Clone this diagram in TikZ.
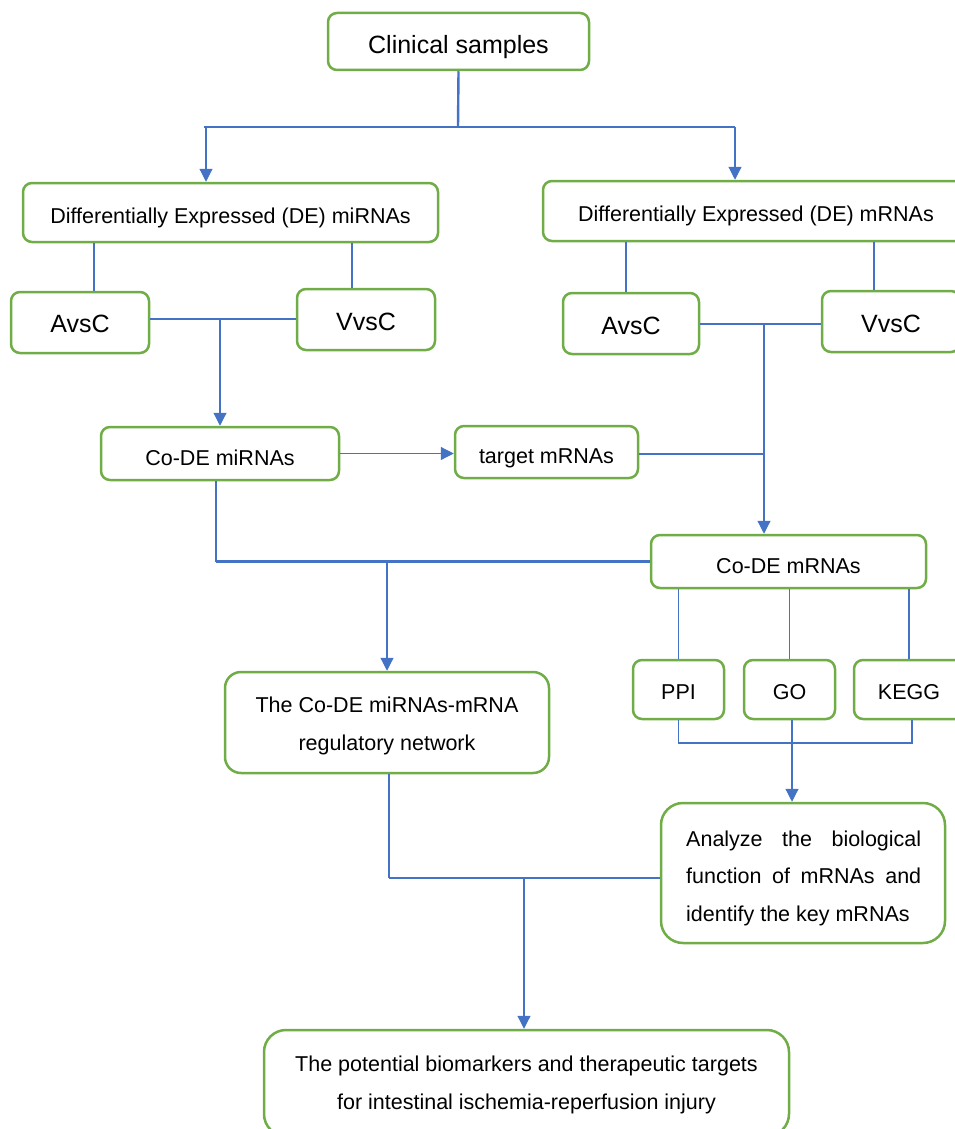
\documentclass[tikz,border=0pt]{standalone}
\usepackage{fontspec}
\setmainfont{Liberation Sans}
\usetikzlibrary{arrows.meta,calc}
\definecolor{bl}{HTML}{4472C4}
\definecolor{gr}{HTML}{70AD47}
\tikzset{
  box/.style={draw=gr, line width=2.5pt, rounded corners=9pt, fill=white, inner sep=0pt, align=center,
    font=\fontsize{21.5}{37.5}\selectfont},
  bigtext/.style={font=\fontsize{25}{30}\selectfont},
  bo/.style={text height=#1, text depth=0pt},
  txt/.style={inner sep=0pt, font=\fontsize{21.5}{37.5}\selectfont},
  ln/.style={draw=bl, line width=1.2pt},
  lnb/.style={draw=bl, line width=2.4pt},
  arr/.style={draw=bl, line width=1.2pt, -{Triangle[width=13pt,length=13pt]}, fill=bl},
}
\begin{document}
\begin{tikzpicture}[x=1pt,y=-1pt]
\useasboundingbox (0,0) rectangle (955,1129);
% nodes
\node[box,bigtext,bo=24pt,minimum width=261pt,minimum height=57pt] (cs) at (458.5,41.5) {Clinical samples};
\node[box,bo=21.5pt,minimum width=415pt,minimum height=59pt] (demi) at (230.5,212.5) {Differentially Expressed (DE) miRNAs};
\node[box,bo=21pt,minimum width=426pt,minimum height=60pt] (dem) at (756,211) {Differentially Expressed (DE) mRNAs};
\node[box,bigtext,bo=20.5pt,minimum width=138pt,minimum height=61pt] (avl) at (80,322.5) {AvsC};
\node[box,bigtext,bo=21pt,minimum width=138pt,minimum height=61pt] (vvl) at (366,319.5) {VvsC};
\node[box,bigtext,bo=21pt,minimum width=136pt,minimum height=61pt] (avr) at (631,323.5) {AvsC};
\node[box,bigtext,bo=21pt,minimum width=138pt,minimum height=61pt] (vvr) at (891,321.5) {VvsC};
\node[box,bo=23pt,minimum width=238pt,minimum height=53pt] (codmi) at (220,453.5) {Co-DE miRNAs};
\node[box,bo=22.6pt,minimum width=183pt,minimum height=52pt] (tgt) at (546.5,452) {target mRNAs};
\node[box,bo=23.6pt,minimum width=275pt,minimum height=53pt] (codm) at (788.5,561.5) {Co-DE mRNAs};
\node[box,rounded corners=16pt,minimum width=324pt,minimum height=101pt] (net) at (387,722.5) {};
\node[txt,anchor=base] (net-t) at (387,712.7)
  {\begin{tabular}[t]{@{}c@{}}The Co-DE miRNAs-mRNA\\regulatory network\end{tabular}};
\node[box,bo=19pt,minimum width=91pt,minimum height=59pt] (ppi) at (678.5,689.5) {PPI};
\node[box,bo=19pt,minimum width=91pt,minimum height=59pt] (go) at (789.5,689.5) {GO};
\node[box,bo=19pt,minimum width=110pt,minimum height=59pt] (kegg) at (909,689.5) {KEGG};
\node[box,rounded corners=22pt,minimum width=284pt,minimum height=140pt] (ana) at (803,873) {};
\node[txt,anchor=base west] (ana-t) at (686,846.7)
  {\parbox[t]{235pt}{\fontsize{21.5}{37.2}\selectfont Analyze\hfill the\hfill biological\\function\hfill of\hfill mRNAs\hfill and\\identify the key mRNAs}};
\node[box,rounded corners=22pt,minimum width=525pt,minimum height=106pt] (bot) at (526.5,1083) {};
\node[txt,anchor=base] (bot-t) at (526.5,1071.7)
  {\begin{tabular}[t]{@{}c@{}}The potential biomarkers and therapeutic targets\\for intestinal ischemia-reperfusion injury\end{tabular}};
% junction coordinates
\coordinate (j1) at (458,127);
\coordinate (jl) at (204,127);
\coordinate (jr) at (735,127);
\coordinate (jm1) at (220,319);
\coordinate (jm2) at (764,324);
\coordinate (jm3) at (387,561);
\coordinate (jm4) at (792,743);
\coordinate (jm5) at (524,878);
% connectors
\draw[lnb] (cs.south) -- (j1);
\draw[lnb] (jl) -- (jr);
\draw[arr] ([xshift=2pt]jl) -- ([xshift=2pt]demi.north -| jl);
\draw[arr] (jr) -- (dem.north -| jr);
\draw[lnb] ([xshift=14pt]avl.north) -- ([xshift=14pt]avl.north |- demi.south);
\draw[ln] ([xshift=-14pt]vvl.north) -- ([xshift=-14pt]vvl.north |- demi.south);
\draw[lnb] (avl.east |- jm1) -- (vvl.west |- jm1);
\draw[arr] (jm1) -- (codmi.north -| jm1);
\draw[ln] ([xshift=-5pt]avr.north) -- ([xshift=-5pt]avr.north |- dem.south);
\draw[ln] ([xshift=-17pt]vvr.north) -- ([xshift=-17pt]vvr.north |- dem.south);
\draw[lnb] (avr.east |- jm2) -- (vvr.west |- jm2);
\draw[arr] (jm2) -- (codm.north -| jm2);
\draw[arr] (codmi.east) -- (tgt.west |- codmi.east);
\draw[lnb] ([yshift=-2pt]tgt.east) -- ([yshift=-2pt]tgt.east -| jm2);
\draw[ln] ([xshift=-4pt]codmi.south) |- (codm.west);
\draw[lnb] ([xshift=-4pt]codmi.south |- codm.west) -- (codm.west);
\draw[arr] (jm3) -- (net.north -| jm3);
\draw[ln] (ppi.north) -- (ppi.north |- codm.south);
\draw[ln] (go.north) -- (go.north |- codm.south);
\draw[ln] (kegg.north) -- (kegg.north |- codm.south);
\draw[lnb,line width=1.8pt] (ppi.south) |- ([xshift=3pt]kegg.south |- jm4) -- ([xshift=3pt]kegg.south);
\draw[arr] (go.south -| jm4) -- (ana.north -| jm4);
\draw[ln] ([xshift=2pt]net.south) -- ([xshift=2pt]net.south |- jm5);
\draw[lnb] ([xshift=2pt]net.south |- jm5) -- (ana.west |- jm5);
\draw[arr] (jm5) -- (bot.north -| jm5);
\end{tikzpicture}
\end{document}
